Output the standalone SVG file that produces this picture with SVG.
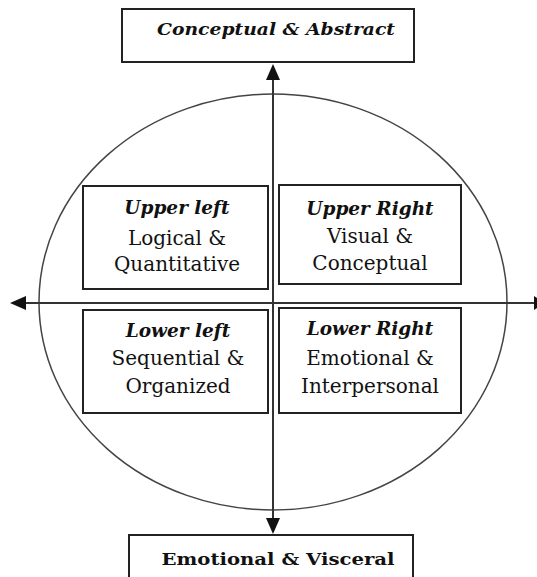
<svg xmlns="http://www.w3.org/2000/svg" width="537" height="577" viewBox="0 0 537 577">
<defs>
<style>
.box{fill:#fff;stroke:#222;stroke-width:2}
.hd{font-family:"DejaVu Serif","Liberation Serif",serif;font-weight:bold;font-style:italic;font-size:18.5px;fill:#111;text-anchor:middle}
.tx{font-family:"DejaVu Serif","Liberation Serif",serif;font-size:20px;fill:#111;text-anchor:middle}
.ax{stroke:#333;stroke-width:2;fill:none}
.hd-t{font-family:"DejaVu Serif","Liberation Serif",serif;font-weight:bold;font-style:italic;font-size:17px;fill:#111;text-anchor:middle}
.hd-b{font-family:"DejaVu Serif","Liberation Serif",serif;font-weight:bold;font-size:17px;fill:#111;text-anchor:middle}
.head{fill:#111}
</style>
</defs>
<rect width="537" height="577" fill="#fff"/>
<g id="ellipse"><ellipse cx="273" cy="302" rx="234" ry="208" fill="none" stroke="#444" stroke-width="1.5"/></g>
<g id="connectors">
<line class="ax" x1="273" y1="302" x2="273" y2="72"/>
<path class="head" d="M273,64 L266,80 L280,80 z"/>
<line class="ax" x1="273" y1="302" x2="273" y2="520"/>
<path class="head" d="M273,534 L266,518 L280,518 z"/>
<line class="ax" x1="22" y1="303" x2="537" y2="303"/>
<path class="head" d="M10,303 L26,296 L26,310 z"/>
<path class="head" d="M534,296 L545,303 L534,310 z"/>
</g>
<g id="top">
<rect class="box" x="122" y="9" width="292" height="53"/>
<text class="hd-t" x="276" y="35" textLength="238" lengthAdjust="spacingAndGlyphs">Conceptual &amp; Abstract</text>
</g>
<g id="bottom">
<rect class="box" x="129" y="535" width="284" height="50"/>
<text class="hd-b" x="278" y="565" textLength="233" lengthAdjust="spacingAndGlyphs">Emotional &amp; Visceral</text>
</g>
<g id="upper-left">
<rect class="box" x="83" y="186" width="185" height="103"/>
<text class="hd" x="177" y="214">Upper left</text>
<text class="tx" x="177" y="245">Logical &amp;</text>
<text class="tx" x="177" y="271">Quantitative</text>
</g>
<g id="upper-right">
<rect class="box" x="279" y="185" width="182" height="99"/>
<text class="hd" x="370" y="215">Upper Right</text>
<text class="tx" x="370" y="243">Visual &amp;</text>
<text class="tx" x="370" y="270">Conceptual</text>
</g>
<g id="lower-left">
<rect class="box" x="83" y="310" width="185" height="103"/>
<text class="hd" x="178" y="337">Lower left</text>
<text class="tx" x="178" y="365">Sequential &amp;</text>
<text class="tx" x="178" y="393">Organized</text>
</g>
<g id="lower-right">
<rect class="box" x="279" y="308" width="182" height="105"/>
<text class="hd" x="370" y="335">Lower Right</text>
<text class="tx" x="370" y="365">Emotional &amp;</text>
<text class="tx" x="370" y="393">Interpersonal</text>
</g>
</svg>
